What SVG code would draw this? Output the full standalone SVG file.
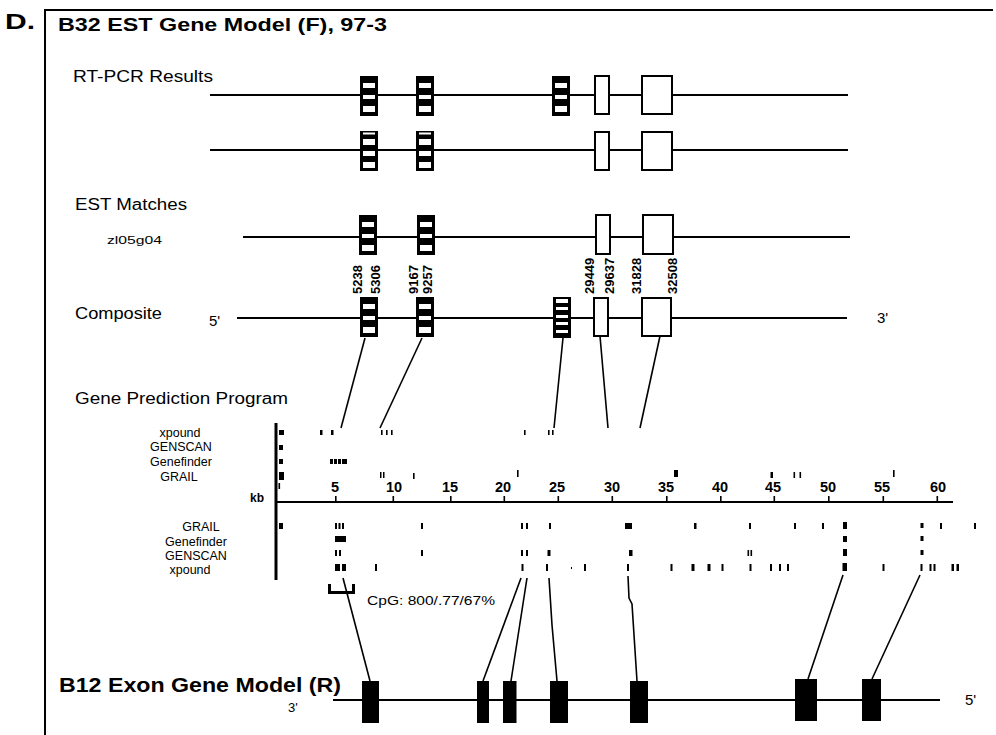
<svg xmlns="http://www.w3.org/2000/svg" width="996" height="735" viewBox="0 0 996 735">
<style>
text{font-family:"Liberation Sans",Arial,sans-serif;fill:#000}
.b{font-weight:bold}
.lab{font-size:16px}
.prog{font-size:12.5px;text-anchor:middle}
.num{font-size:13px;font-weight:bold}
.ax{font-size:14.5px;font-weight:bold;text-anchor:middle}
.ln{stroke:#000;stroke-width:2;fill:none}
.cn{stroke:#000;stroke-width:1.6;fill:none}
.wx{fill:#fff;stroke:#000;stroke-width:2}
.bx{fill:#000}
.w{fill:#fff}
</style>
<defs>
<g id="s3"><rect width="18" height="40" class="bx"/><rect x="3" y="7" width="12" height="5" class="w"/><rect x="3" y="19" width="12" height="4" class="w"/><rect x="3" y="30" width="12" height="6" class="w"/></g>
<g id="s4"><rect width="18" height="40" class="bx"/><rect x="3" y="1.5" width="12" height="2" class="w"/><rect x="3" y="8" width="12" height="6" class="w"/><rect x="3" y="20" width="12" height="5" class="w"/><rect x="3" y="31" width="12" height="6" class="w"/></g>
<g id="s5"><rect width="18" height="41" class="bx"/><rect x="3" y="2" width="12" height="4" class="w"/><rect x="3" y="10" width="12" height="3" class="w"/><rect x="3" y="18" width="12" height="3" class="w"/><rect x="3" y="25" width="12" height="3" class="w"/><rect x="3" y="33" width="12" height="3" class="w"/></g>
</defs>

<g id="frame">
<line x1="45" y1="10" x2="993" y2="10" class="ln"/>
<line x1="45" y1="9" x2="45" y2="735" class="ln"/>
<text x="5" y="29" class="b" font-size="22" textLength="30" lengthAdjust="spacingAndGlyphs">D.</text>
<text x="58" y="31" class="b" font-size="18.5" textLength="329" lengthAdjust="spacingAndGlyphs">B32 EST Gene Model (F), 97-3</text>
</g>

<g id="rtpcr">
<text x="73" y="82" class="lab" textLength="140" lengthAdjust="spacingAndGlyphs">RT-PCR Results</text>
<line x1="210" y1="95" x2="848" y2="95" class="ln"/>
<use href="#s3" x="360" y="76"/>
<use href="#s3" x="416" y="76"/>
<use href="#s3" x="552" y="76"/>
<rect x="595" y="76" width="14" height="38" class="wx"/>
<rect x="642" y="76" width="30" height="38" class="wx"/>
<line x1="210" y1="150" x2="848" y2="150" class="ln"/>
<use href="#s4" x="360" y="131"/>
<use href="#s4" x="416" y="131"/>
<rect x="595" y="132" width="14" height="38" class="wx"/>
<rect x="642" y="132" width="30" height="38" class="wx"/>
</g>

<g id="est">
<text x="75" y="210" class="lab" textLength="112" lengthAdjust="spacingAndGlyphs">EST Matches</text>
<text x="107" y="244" font-size="11" textLength="55" lengthAdjust="spacingAndGlyphs">zl05g04</text>
<line x1="243" y1="237" x2="850" y2="237" class="ln"/>
<use href="#s3" x="359" y="215"/>
<use href="#s3" x="417" y="215"/>
<rect x="596" y="215" width="14" height="39" class="wx"/>
<rect x="643" y="215" width="30" height="39" class="wx"/>
</g>

<g id="coords">
<text class="num" transform="translate(362,294) rotate(-90)">5238</text>
<text class="num" transform="translate(380,294) rotate(-90)">5306</text>
<text class="num" transform="translate(418,294) rotate(-90)">9167</text>
<text class="num" transform="translate(432,294) rotate(-90)">9257</text>
<text class="num" transform="translate(594,294) rotate(-90)">29449</text>
<text class="num" transform="translate(614,294) rotate(-90)">29637</text>
<text class="num" transform="translate(641,294) rotate(-90)">31828</text>
<text class="num" transform="translate(677,294) rotate(-90)">32508</text>
</g>

<g id="composite">
<text x="75" y="319" class="lab" textLength="87" lengthAdjust="spacingAndGlyphs">Composite</text>
<text x="209" y="326" font-size="15">5'</text>
<text x="877" y="323" font-size="15">3'</text>
<line x1="237" y1="318" x2="847" y2="318" class="ln"/>
<use href="#s3" x="360" y="297"/>
<use href="#s3" x="416" y="297"/>
<use href="#s5" x="553" y="297"/>
<rect x="594" y="298" width="14" height="38" class="wx"/>
<rect x="642" y="298" width="29" height="38" class="wx"/>
</g>

<g id="prediction">
<text x="75" y="404" class="lab" textLength="213" lengthAdjust="spacingAndGlyphs">Gene Prediction Program</text>
<text x="180" y="437" class="prog">xpound</text>
<text x="181" y="451" class="prog">GENSCAN</text>
<text x="181" y="466" class="prog">Genefinder</text>
<text x="179" y="481" class="prog">GRAIL</text>
<rect x="274.5" y="423" width="3" height="157"/>
<line x1="276" y1="502" x2="953" y2="502" class="ln"/>
<text x="257" y="502" class="b" font-size="12" text-anchor="middle">kb</text>
<g id="ticks" fill="#000">
<rect x="335" y="496" width="1.6" height="6"/><rect x="392.5" y="496" width="1.6" height="6"/><rect x="450" y="496" width="1.6" height="6"/><rect x="503.5" y="496" width="1.6" height="6"/><rect x="557.5" y="496" width="1.6" height="6"/><rect x="611.5" y="496" width="1.6" height="6"/><rect x="666" y="496" width="1.6" height="6"/><rect x="720" y="496" width="1.6" height="6"/><rect x="773.5" y="496" width="1.6" height="6"/><rect x="828" y="496" width="1.6" height="6"/><rect x="882.5" y="496" width="1.6" height="6"/><rect x="936.5" y="496" width="1.6" height="6"/>
<rect x="278.5" y="483" width="1.6" height="6"/>
</g>
<text x="335" y="492" class="ax">5</text>
<text x="394" y="492" class="ax">10</text>
<text x="450" y="492" class="ax">15</text>
<text x="503" y="492" class="ax">20</text>
<text x="557" y="492" class="ax">25</text>
<text x="612" y="492" class="ax">30</text>
<text x="666" y="492" class="ax">35</text>
<text x="720" y="492" class="ax">40</text>
<text x="773" y="492" class="ax">45</text>
<text x="828" y="492" class="ax">50</text>
<text x="882" y="492" class="ax">55</text>
<text x="938" y="492" class="ax">60</text>

<g id="upper-marks" fill="#000">
<rect x="279" y="430" width="5" height="5"/><rect x="320" y="430" width="2.5" height="5"/><rect x="331" y="430" width="2.5" height="5"/><rect x="381" y="430" width="1.6" height="5"/><rect x="386" y="430" width="1.6" height="5"/><rect x="391" y="430" width="1.6" height="5"/><rect x="524" y="430" width="1.6" height="5"/><rect x="548" y="430" width="1.6" height="5"/><rect x="552" y="430" width="1.6" height="5"/>
<rect x="279" y="445" width="4" height="5"/>
<rect x="279" y="459" width="4" height="5"/><rect x="330" y="459" width="3" height="5"/><rect x="334" y="459" width="3" height="5"/><rect x="338" y="459" width="3" height="5"/><rect x="342" y="459" width="5" height="5"/>
<rect x="279" y="472" width="5" height="8"/><rect x="380" y="472" width="1.5" height="6"/><rect x="383" y="472" width="1.5" height="6"/><rect x="413" y="473" width="1.6" height="6"/><rect x="517" y="470" width="1.6" height="7"/><rect x="674" y="470" width="4" height="7"/><rect x="770.5" y="472" width="2.5" height="6"/><rect x="793.5" y="472" width="1.6" height="6"/><rect x="799.5" y="472" width="1.6" height="6"/><rect x="893" y="470" width="1.6" height="7"/>
</g>

<text x="201" y="531" class="prog">GRAIL</text>
<text x="196" y="545.5" class="prog">Genefinder</text>
<text x="196" y="560" class="prog">GENSCAN</text>
<text x="190" y="574" class="prog">xpound</text>

<g id="lower-marks" fill="#000">
<rect x="279" y="523" width="4" height="6"/><rect x="335" y="523" width="2" height="6"/><rect x="338.5" y="523" width="2" height="6"/><rect x="342" y="523" width="2" height="6"/><rect x="421" y="523" width="2" height="6"/><rect x="521" y="523" width="2" height="6"/><rect x="526" y="523" width="2" height="6"/><rect x="549" y="523" width="2" height="6"/><rect x="625" y="523" width="7" height="6"/><rect x="694" y="523" width="2.5" height="6"/><rect x="749" y="523" width="2" height="6"/><rect x="794" y="523" width="2" height="6"/><rect x="822" y="523" width="2" height="6"/><rect x="843" y="522" width="4" height="7"/><rect x="920.5" y="523" width="3" height="5"/><rect x="940" y="523" width="2" height="6"/><rect x="974" y="523" width="2" height="6"/>
<rect x="335" y="536" width="11" height="6"/><rect x="843" y="536" width="4" height="6"/><rect x="920.5" y="536" width="3" height="5"/>
<rect x="335" y="550" width="2" height="6"/><rect x="339" y="550" width="2" height="6"/><rect x="421" y="550" width="2" height="6"/><rect x="521" y="550" width="2" height="6"/><rect x="526" y="550" width="2" height="6"/><rect x="547.5" y="550" width="3" height="6"/><rect x="629" y="550" width="3.5" height="6"/><rect x="747.5" y="550" width="1.6" height="6"/><rect x="750.5" y="550" width="1.6" height="6"/><rect x="843" y="549" width="4" height="7"/><rect x="920.5" y="550" width="3" height="5"/>
<rect x="335" y="564" width="5" height="7"/><rect x="342" y="564" width="4" height="7"/><rect x="375" y="564" width="2" height="7"/><rect x="521.5" y="564" width="2" height="7"/><rect x="546" y="564" width="2" height="7"/><rect x="571" y="567" width="1" height="2"/><rect x="584" y="564" width="2" height="7"/><rect x="627" y="564" width="2" height="7"/><rect x="670.5" y="564" width="2" height="7"/><rect x="691.5" y="564" width="3" height="7"/><rect x="707.5" y="564" width="3" height="7"/><rect x="721.5" y="564" width="2" height="7"/><rect x="749.5" y="564" width="2" height="7"/><rect x="770" y="564" width="2" height="7"/><rect x="779" y="564" width="2" height="7"/><rect x="787" y="564" width="2" height="7"/><rect x="842.5" y="563" width="4.5" height="8"/><rect x="882.5" y="564" width="2" height="7"/><rect x="920.5" y="564" width="2" height="7"/><rect x="929.5" y="564" width="2" height="7"/><rect x="933.5" y="564" width="2" height="7"/><rect x="951.5" y="564" width="2.5" height="7"/><rect x="956.5" y="564" width="2.5" height="7"/>
</g>
<path d="M329.5 584 V592.5 H353.5 V584" stroke="#000" stroke-width="3" fill="none"/>
<text x="367" y="605" font-size="12.5" textLength="128" lengthAdjust="spacingAndGlyphs">CpG: 800/.77/67%</text>
</g>

<g id="connectors">
<line x1="365" y1="338" x2="341" y2="428" class="cn"/>
<line x1="422" y1="338" x2="380" y2="428" class="cn"/>
<line x1="563" y1="338" x2="554" y2="428" class="cn"/>
<line x1="600" y1="336" x2="608" y2="428" class="cn"/>
<line x1="660" y1="336" x2="640" y2="428" class="cn"/>
<line x1="343" y1="578" x2="370" y2="681" class="cn"/>
<line x1="521" y1="578" x2="483" y2="681" class="cn"/>
<line x1="527" y1="578" x2="511" y2="681" class="cn"/>
<polyline points="549,578 552,625 557,681" class="cn"/>
<polyline points="628,576 629,598 632,604 637,681" class="cn"/>
<line x1="843" y1="575" x2="808" y2="679" class="cn"/>
<line x1="920" y1="575" x2="872" y2="679" class="cn"/>
</g>

<g id="b12">
<text x="59" y="692" class="b" font-size="20" textLength="282" lengthAdjust="spacingAndGlyphs">B12 Exon Gene Model (R)</text>
<text x="288" y="712" font-size="13">3'</text>
<text x="965" y="705" font-size="15">5'</text>
<line x1="333" y1="700" x2="940" y2="700" class="ln"/>
<rect x="362" y="681" width="17" height="42"/>
<rect x="477" y="681" width="12" height="42"/>
<rect x="503" y="681" width="13.5" height="42"/>
<rect x="550" y="681" width="18" height="42"/>
<rect x="630" y="681" width="18" height="42"/>
<rect x="795" y="679" width="22" height="42"/>
<rect x="862" y="679" width="19" height="42"/>
</g>
</svg>
